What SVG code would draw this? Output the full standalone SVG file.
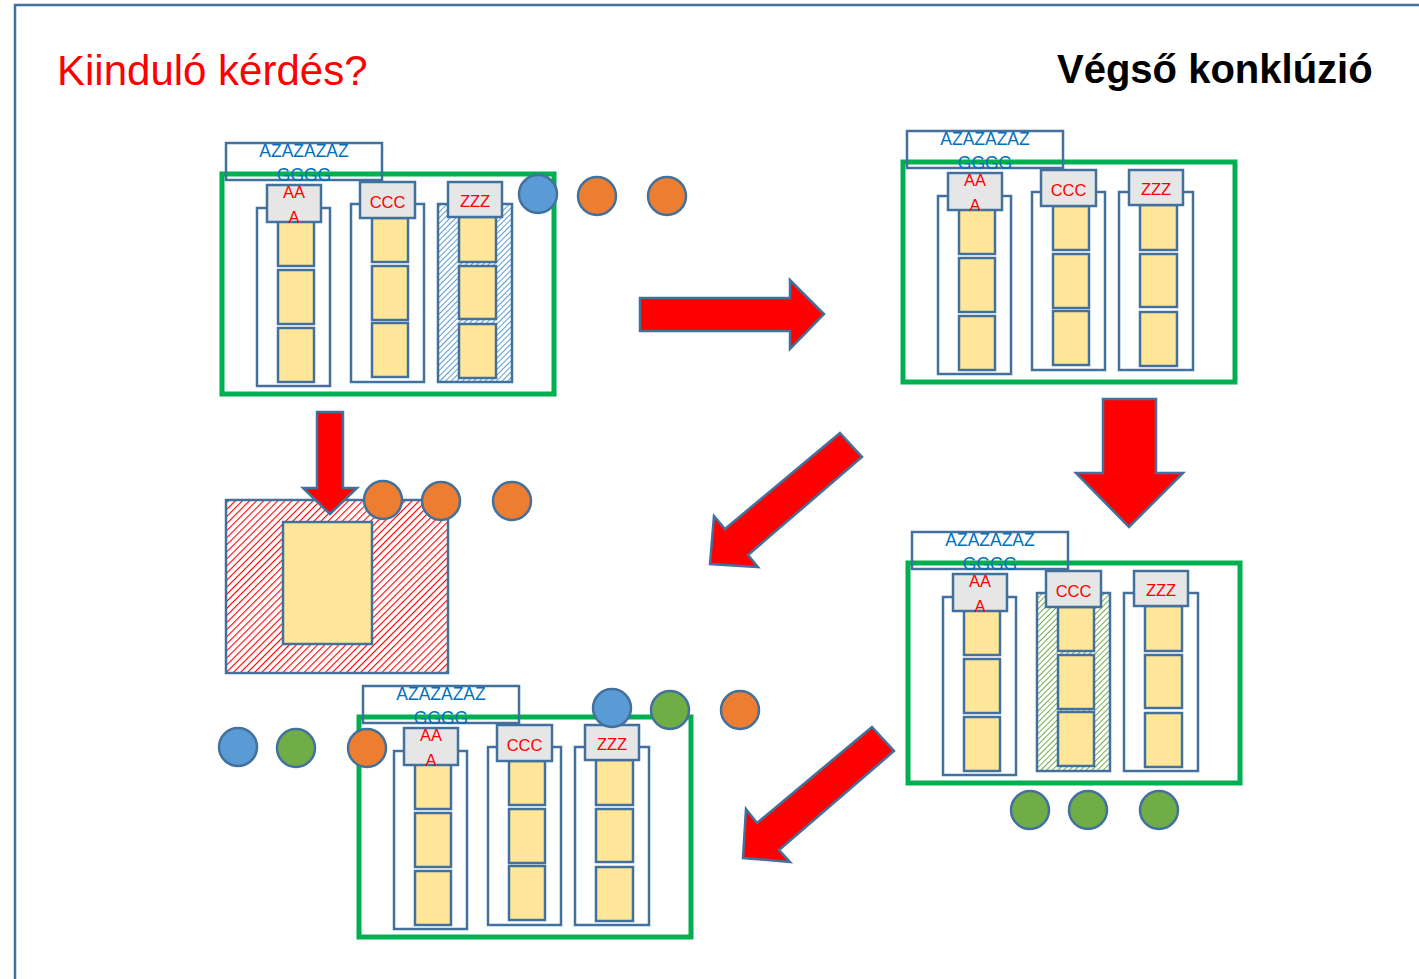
<svg xmlns="http://www.w3.org/2000/svg" width="1419" height="979" viewBox="0 0 1419 979">
<style>
.frame{fill:none;stroke:#41719C;stroke-width:2.5}
.grn{fill:none;stroke:#00B050;stroke-width:5}
.col{fill:#fff;stroke:#41719C;stroke-width:2.5}
.yel{fill:#FFE699;stroke:#41719C;stroke-width:2.5}
.hdr{fill:#E6E6E6;stroke:#41719C;stroke-width:2.5}
.lbl{fill:none;stroke:#41719C;stroke-width:2.5}
.ht{font-family:"Liberation Sans",Arial,sans-serif;font-size:16.5px;fill:#FF0000;text-anchor:middle}
.lt{font-family:"Liberation Sans",Arial,sans-serif;font-size:17.5px;fill:#0070C0;text-anchor:middle}
.arrow{fill:#FF0000;stroke:#41719C;stroke-width:2.5;stroke-linejoin:miter}
.c{stroke:#41719C;stroke-width:2.5}
.or{fill:#ED7D31}.bl{fill:#5B9BD5}.gr{fill:#70AD47}
</style>
<defs>
<pattern id="hatchBlue" width="4" height="4" patternUnits="userSpaceOnUse" patternTransform="rotate(45)">
<rect width="4" height="4" fill="#fff"/><line x1="0" y1="0" x2="0" y2="4" stroke="#5B9BD5" stroke-width="2"/>
</pattern>
<pattern id="hatchGreen" width="4" height="4" patternUnits="userSpaceOnUse" patternTransform="rotate(45)">
<rect width="4" height="4" fill="#fff"/><line x1="0" y1="0" x2="0" y2="4" stroke="#70AD47" stroke-width="2"/>
</pattern>
<pattern id="hatchRed" width="5" height="5" patternUnits="userSpaceOnUse" patternTransform="rotate(45)">
<rect width="5" height="5" fill="#fff"/><line x1="0" y1="0" x2="0" y2="5" stroke="#FF0000" stroke-width="2.2"/>
</pattern>
</defs>
<rect width="1419" height="979" fill="#fff"/>
<rect class="frame" x="15" y="5" width="1430" height="1000"/>
<text x="57" y="85" font-family="Liberation Sans,Arial,sans-serif" font-size="42" fill="#FF0000">Kiinduló kérdés?</text>
<text x="1057" y="83" font-family="Liberation Sans,Arial,sans-serif" font-size="40" font-weight="bold" fill="#000">Végső konklúzió</text>

<g id="cluster-start">
<rect class="grn" x="222" y="174" width="332" height="220"/>
<rect class="col" x="257" y="208" width="73" height="178"/>
<rect class="col" x="351" y="204" width="73" height="178"/>
<rect class="col" x="438" y="204" width="74" height="178" style="fill:url(#hatchBlue)"/>
<rect class="yel" x="278" y="221" width="36" height="45"/>
<rect class="yel" x="278" y="270" width="36" height="54"/>
<rect class="yel" x="278" y="328" width="36" height="54"/>
<rect class="yel" x="372" y="218" width="36" height="44"/>
<rect class="yel" x="372" y="266" width="36" height="54"/>
<rect class="yel" x="372" y="323" width="36" height="54"/>
<rect class="yel" x="459" y="217" width="37" height="45"/>
<rect class="yel" x="459" y="266" width="37" height="53"/>
<rect class="yel" x="459" y="324" width="37" height="54"/>
<rect class="hdr" x="267" y="185" width="54" height="37"/>
<rect class="hdr" x="360" y="182" width="55" height="36"/>
<rect class="hdr" x="448" y="182" width="54" height="35"/>
<text class="ht" x="294" y="198">AA</text>
<text class="ht" x="294" y="223">A</text>
<text class="ht" x="387.5" y="207.5">CCC</text>
<text class="ht" x="475" y="207">ZZZ</text>
<rect class="lbl" x="226" y="143" width="156" height="37"/>
<text class="lt" x="304" y="157">AZAZAZAZ</text>
<text class="lt" x="304" y="181">GGGG</text>
<circle class="c bl" cx="538" cy="194" r="19"/>
<circle class="c or" cx="597" cy="196" r="19"/>
<circle class="c or" cx="667" cy="196" r="19"/>
</g>

<g id="cluster-final" transform="translate(681,-12)">
<rect class="grn" x="222" y="174" width="332" height="220"/>
<rect class="col" x="257" y="208" width="73" height="178"/>
<rect class="col" x="351" y="204" width="73" height="178"/>
<rect class="col" x="438" y="204" width="74" height="178"/>
<rect class="yel" x="278" y="221" width="36" height="45"/>
<rect class="yel" x="278" y="270" width="36" height="54"/>
<rect class="yel" x="278" y="328" width="36" height="54"/>
<rect class="yel" x="372" y="218" width="36" height="44"/>
<rect class="yel" x="372" y="266" width="36" height="54"/>
<rect class="yel" x="372" y="323" width="36" height="54"/>
<rect class="yel" x="459" y="217" width="37" height="45"/>
<rect class="yel" x="459" y="266" width="37" height="53"/>
<rect class="yel" x="459" y="324" width="37" height="54"/>
<rect class="hdr" x="267" y="185" width="54" height="37"/>
<rect class="hdr" x="360" y="182" width="55" height="36"/>
<rect class="hdr" x="448" y="182" width="54" height="35"/>
<text class="ht" x="294" y="198">AA</text>
<text class="ht" x="294" y="223">A</text>
<text class="ht" x="387.5" y="207.5">CCC</text>
<text class="ht" x="475" y="207">ZZZ</text>
<rect class="lbl" x="226" y="143" width="156" height="37"/>
<text class="lt" x="304" y="157">AZAZAZAZ</text>
<text class="lt" x="304" y="181">GGGG</text>
</g>

<g id="cluster-right" transform="translate(686,389)">
<rect class="grn" x="222" y="174" width="332" height="220"/>
<rect class="col" x="257" y="208" width="73" height="178"/>
<rect class="col" x="351" y="204" width="73" height="178" style="fill:url(#hatchGreen)"/>
<rect class="col" x="438" y="204" width="74" height="178"/>
<rect class="yel" x="278" y="221" width="36" height="45"/>
<rect class="yel" x="278" y="270" width="36" height="54"/>
<rect class="yel" x="278" y="328" width="36" height="54"/>
<rect class="yel" x="372" y="218" width="36" height="44"/>
<rect class="yel" x="372" y="266" width="36" height="54"/>
<rect class="yel" x="372" y="323" width="36" height="54"/>
<rect class="yel" x="459" y="217" width="37" height="45"/>
<rect class="yel" x="459" y="266" width="37" height="53"/>
<rect class="yel" x="459" y="324" width="37" height="54"/>
<rect class="hdr" x="267" y="185" width="54" height="37"/>
<rect class="hdr" x="360" y="182" width="55" height="36"/>
<rect class="hdr" x="448" y="182" width="54" height="35"/>
<text class="ht" x="294" y="198">AA</text>
<text class="ht" x="294" y="223">A</text>
<text class="ht" x="387.5" y="207.5">CCC</text>
<text class="ht" x="475" y="207">ZZZ</text>
<rect class="lbl" x="226" y="143" width="156" height="37"/>
<text class="lt" x="304" y="157">AZAZAZAZ</text>
<text class="lt" x="304" y="181">GGGG</text>
<circle class="c gr" cx="344" cy="421" r="19"/>
<circle class="c gr" cx="402" cy="421" r="19"/>
<circle class="c gr" cx="473" cy="421" r="19"/>
</g>

<g id="cluster-bottom" transform="translate(137,543)">
<rect class="grn" x="222" y="174" width="332" height="220"/>
<rect class="col" x="257" y="208" width="73" height="178"/>
<rect class="col" x="351" y="204" width="73" height="178"/>
<rect class="col" x="438" y="204" width="74" height="178"/>
<rect class="yel" x="278" y="221" width="36" height="45"/>
<rect class="yel" x="278" y="270" width="36" height="54"/>
<rect class="yel" x="278" y="328" width="36" height="54"/>
<rect class="yel" x="372" y="218" width="36" height="44"/>
<rect class="yel" x="372" y="266" width="36" height="54"/>
<rect class="yel" x="372" y="323" width="36" height="54"/>
<rect class="yel" x="459" y="217" width="37" height="45"/>
<rect class="yel" x="459" y="266" width="37" height="53"/>
<rect class="yel" x="459" y="324" width="37" height="54"/>
<rect class="hdr" x="267" y="185" width="54" height="37"/>
<rect class="hdr" x="360" y="182" width="55" height="36"/>
<rect class="hdr" x="448" y="182" width="54" height="35"/>
<text class="ht" x="294" y="198">AA</text>
<text class="ht" x="294" y="223">A</text>
<text class="ht" x="387.5" y="207.5">CCC</text>
<text class="ht" x="475" y="207">ZZZ</text>
<rect class="lbl" x="226" y="143" width="156" height="37"/>
<text class="lt" x="304" y="157">AZAZAZAZ</text>
<text class="lt" x="304" y="181">GGGG</text>
<circle class="c bl" cx="101" cy="204" r="19"/>
<circle class="c gr" cx="159" cy="205" r="19"/>
<circle class="c or" cx="230" cy="205" r="19"/>
<circle class="c bl" cx="475" cy="165" r="19"/>
<circle class="c gr" cx="533" cy="167" r="19"/>
<circle class="c or" cx="603" cy="167" r="19"/>
</g>

<g id="merged">
<rect x="226" y="500" width="222" height="173" fill="url(#hatchRed)" stroke="#41719C" stroke-width="2.5"/>
<rect class="yel" x="283" y="522" width="89" height="122"/>
</g>

<g id="connectors">
<polygon class="arrow" points="640,298 790,298 790,280 824,314 790,349 790,331 640,331"/>
<polygon class="arrow" points="317,412 343,412 343,488 357,488 330,514 303,488 317,488"/>
<polygon class="arrow" points="1103,399 1156,399 1156,473 1183,473 1129,527 1076,473 1103,473"/>
<polygon class="arrow" points="840,433 862,457 748,555 758,567 710,564 714,516 725,529"/>
<polygon class="arrow" points="872,727 894,751 779,850 790,862 743,858 746,809 757,823"/>
</g>

<g id="merged-circles">
<circle class="c or" cx="383" cy="500" r="19"/>
<circle class="c or" cx="441" cy="501" r="19"/>
<circle class="c or" cx="512" cy="501" r="19"/>
</g>
</svg>
